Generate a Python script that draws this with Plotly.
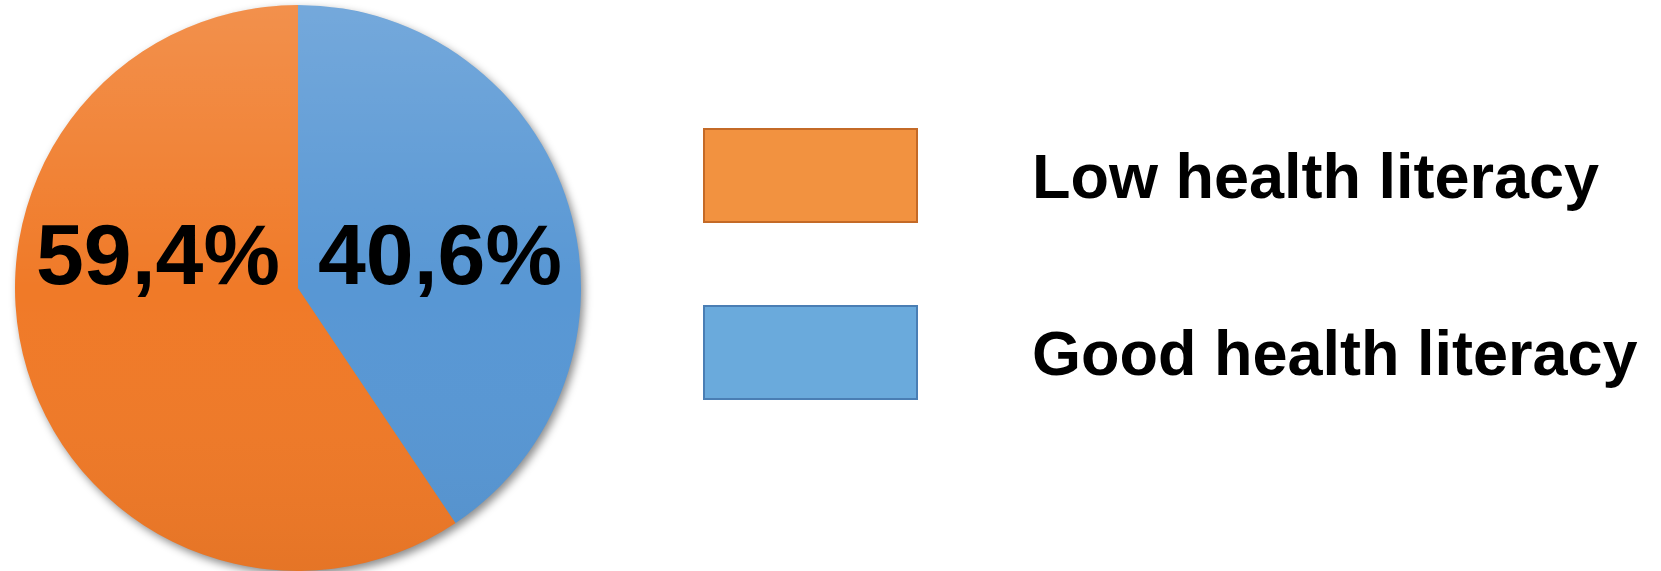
import base64
import plotly.graph_objects as go

# ---- data ----
categories = ["Low health literacy", "Good health literacy"]
values = [59.4, 40.6]
value_labels = ["59,4%", "40,6%"]
colors = ["#F07A28", "#5897D4"]
legend_fill = ["#F29240", "#6AAADC"]
legend_line = ["#C46A27", "#4A7EB4"]

W, H = 1661, 571


def px(x):
    return x / W


def py(y):
    return (H - y) / H


def svg_uri(svg):
    return "data:image/svg+xml;base64," + base64.b64encode(svg.encode()).decode()


# pie geometry (pixels)
cx, cy, r = 298, 288, 283

fig = go.Figure()
fig.add_trace(go.Pie(
    labels=categories,
    values=values,
    sort=False,
    direction="clockwise",
    rotation=360 * values[1] / sum(values),
    marker=dict(colors=colors, line=dict(width=0)),
    textinfo="none",
    hoverinfo="label+percent",
    showlegend=False,
    domain=dict(x=[px(cx - r), px(cx + r)], y=[py(cy + r), py(cy - r)]),
))

# soft shadow below the pie and a light-to-dark gradient sheen over it
pad = 20
d = 2 * r
shadow_svg = (
    f'<svg xmlns="http://www.w3.org/2000/svg" width="{d + 2 * pad}" height="{d + 2 * pad}" '
    f'viewBox="0 0 {d + 2 * pad} {d + 2 * pad}">'
    '<defs><filter id="b" x="-20%" y="-20%" width="140%" height="140%">'
    '<feGaussianBlur stdDeviation="4"/></filter></defs>'
    f'<circle cx="{r + pad + 3}" cy="{r + pad + 4}" r="{r}" fill="#000" fill-opacity="0.45" filter="url(#b)"/>'
    '</svg>'
)
sheen_svg = (
    f'<svg xmlns="http://www.w3.org/2000/svg" width="{d}" height="{d}" viewBox="0 0 {d} {d}">'
    '<defs><linearGradient id="g" x1="0" y1="0" x2="0" y2="1">'
    '<stop offset="0" stop-color="#fff" stop-opacity="0.17"/>'
    '<stop offset="0.5" stop-color="#fff" stop-opacity="0"/>'
    '<stop offset="1" stop-color="#000" stop-opacity="0.045"/>'
    '</linearGradient></defs>'
    f'<circle cx="{r}" cy="{r}" r="{r}" fill="url(#g)"/>'
    '</svg>'
)
images = [
    dict(source=svg_uri(shadow_svg), xref="paper", yref="paper",
         x=px(cx - r - pad), y=py(cy - r - pad), sizex=(d + 2 * pad) / W, sizey=(d + 2 * pad) / H,
         xanchor="left", yanchor="top", sizing="stretch", layer="below"),
    dict(source=svg_uri(sheen_svg), xref="paper", yref="paper",
         x=px(cx - r), y=py(cy - r), sizex=d / W, sizey=d / H,
         xanchor="left", yanchor="top", sizing="stretch", layer="above"),
]

annotations = []
label_pos = [(158, 254), (440, 254)]
for txt, (lx, ly) in zip(value_labels, label_pos):
    annotations.append(dict(
        x=px(lx), y=py(ly), xref="paper", yref="paper",
        text=txt, showarrow=False, xanchor="center", yanchor="middle",
        font=dict(family="Liberation Sans, Arial, sans-serif", size=86, color="#000000", weight="bold"),
    ))

# custom legend
shapes = []
box_tops = [129, 306]
for i, name in enumerate(categories):
    y0 = box_tops[i]
    shapes.append(dict(
        type="rect", xref="paper", yref="paper",
        x0=px(704), x1=px(917), y0=py(y0 + 93), y1=py(y0),
        fillcolor=legend_fill[i], line=dict(color=legend_line[i], width=2),
    ))
    annotations.append(dict(
        x=px(1030), y=py(y0 + 47), xref="paper", yref="paper",
        text=name, showarrow=False, xanchor="left", yanchor="middle",
        font=dict(family="Liberation Sans, Arial, sans-serif", size=63, color="#000000", weight="bold"),
    ))

fig.update_layout(
    width=W, height=H,
    margin=dict(l=0, r=0, t=0, b=0),
    paper_bgcolor="white", plot_bgcolor="white",
    annotations=annotations, shapes=shapes, images=images,
    showlegend=False,
)

fig.write_html("out.html", config={"displayModeBar": False},
               post_script="document.body.style.margin='0px';")
